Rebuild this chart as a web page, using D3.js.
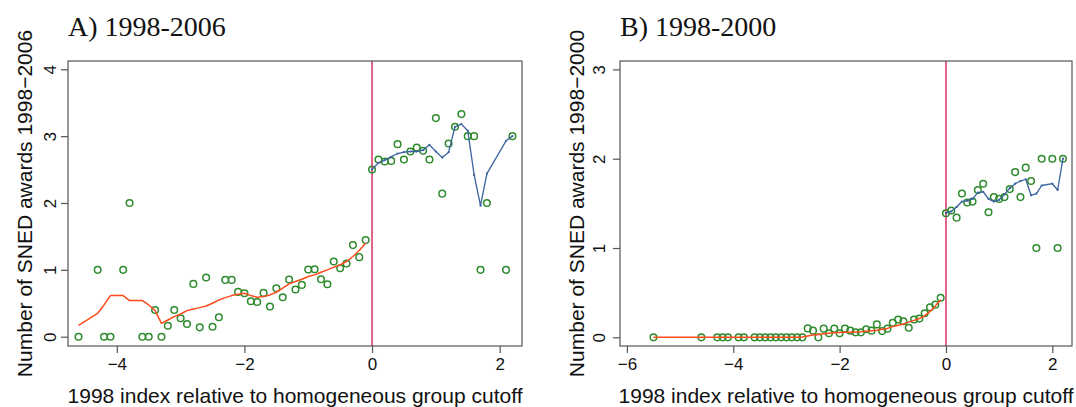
<!DOCTYPE html>
<html>
<head>
<meta charset="utf-8">
<script src="https://cdn.jsdelivr.net/npm/d3@7"></script>
<style>
  html, body { margin: 0; padding: 0; background: #fff; }
  svg { display: block; }
</style>
</head>
<body>
<div id="chart"></div>
<script>
// ---- Panel A: 1998-2006 ----
const aXTicks = [-4, -2, 0, 2];
const aYTicks = [0, 1, 2, 3, 4];

const aLeftX = [-4.6, -4.3, -4.2, -4.1, -3.9, -3.8, -3.6, -3.5, -3.4, -3.3, -3.2, -3.1, -3.0, -2.9,
  -2.8, -2.7, -2.6, -2.5, -2.4, -2.3, -2.2, -2.1, -2.0, -1.9, -1.8, -1.7, -1.6, -1.5, -1.4, -1.3,
  -1.2, -1.1, -1.0, -0.9, -0.8, -0.7, -0.6, -0.5, -0.4, -0.3, -0.2, -0.1];
const aLeftY = [0, 1, 0, 0, 1, 2, 0, 0, 0.40, 0, 0.165, 0.40, 0.275, 0.19,
  0.79, 0.14, 0.885, 0.15, 0.29, 0.85, 0.85, 0.67, 0.65, 0.53, 0.52, 0.655, 0.45, 0.725, 0.59, 0.855,
  0.705, 0.775, 1.005, 1.01, 0.86, 0.785, 1.125, 1.025, 1.095, 1.37, 1.19, 1.445];
const aLeftFit = [0.17, 0.35, 0.475, 0.615, 0.615, 0.54, 0.54, 0.475, 0.39, 0.20, 0.25, 0.30, 0.34, 0.39,
  0.415, 0.435, 0.46, 0.50, 0.55, 0.585, 0.615, 0.635, 0.65, 0.615, 0.59, 0.60, 0.625, 0.665, 0.725, 0.79,
  0.825, 0.86, 0.90, 0.925, 0.965, 1.00, 1.04, 1.075, 1.125, 1.20, 1.29, 1.40];

const aRightX = [0, 0.1, 0.2, 0.3, 0.4, 0.5, 0.6, 0.7, 0.8, 0.9, 1.0, 1.1, 1.2, 1.3, 1.4, 1.5, 1.6, 1.7, 1.8, 2.1, 2.2];
const aRightY = [2.50, 2.65, 2.62, 2.63, 2.88, 2.65, 2.77, 2.83, 2.78, 2.65, 3.27, 2.14, 2.89, 3.14, 3.33, 3.00, 3.00, 1.00, 2.00, 1.00, 3.00];
const aRightFit = [2.50, 2.60, 2.64, 2.69, 2.74, 2.76, 2.77, 2.77, 2.79, 2.87, 2.77, 2.68, 2.76, 3.14, 3.18, 3.08, 2.42, 1.96, 2.44, 2.93, 3.00];

// ---- Panel B: 1998-2000 ----
const bXTicks = [-6, -4, -2, 0, 2];
const bYTicks = [0, 1, 2, 3];

const bLeftX = [-5.5, -4.6, -4.3, -4.2, -4.1, -3.9, -3.8, -3.6, -3.5, -3.4, -3.3, -3.2, -3.1, -3.0, -2.9, -2.8, -2.7,
  -2.6, -2.5, -2.4, -2.3, -2.2, -2.1, -2.0, -1.9, -1.8, -1.7, -1.6, -1.5, -1.4, -1.3,
  -1.2, -1.1, -1.0, -0.9, -0.8, -0.7, -0.6, -0.5, -0.4, -0.3, -0.2, -0.1];
const bLeftY = [0, 0, 0, 0, 0, 0, 0, 0, 0, 0, 0, 0, 0, 0, 0, 0, 0,
  0.10, 0.075, 0, 0.097, 0.045, 0.097, 0.045, 0.097, 0.075, 0.056, 0.056, 0.09, 0.075, 0.145,
  0.07, 0.097, 0.164, 0.20, 0.18, 0.108, 0.20, 0.21, 0.27, 0.336, 0.366, 0.444];
const bLeftFit = [0, 0, 0, 0, 0, 0, 0, 0, 0, 0, 0, 0, 0, 0, 0, 0, 0.005,
  0.015, 0.025, 0.033, 0.04, 0.045, 0.05, 0.053, 0.056, 0.058, 0.06, 0.063, 0.068, 0.074, 0.08,
  0.09, 0.10, 0.12, 0.135, 0.15, 0.17, 0.19, 0.21, 0.24, 0.29, 0.35, 0.42];

const bRightX = [0, 0.1, 0.2, 0.3, 0.4, 0.5, 0.6, 0.7, 0.8, 0.9, 1.0, 1.1, 1.2, 1.3, 1.4, 1.5, 1.6, 1.7, 1.8, 2.0, 2.1, 2.2];
const bRightY = [1.39, 1.42, 1.34, 1.61, 1.51, 1.52, 1.65, 1.72, 1.40, 1.57, 1.55, 1.57, 1.66, 1.85, 1.57, 1.90, 1.75, 1.00, 2.00, 2.00, 1.00, 2.00];
const bRightFit = [1.39, 1.41, 1.46, 1.52, 1.53, 1.55, 1.62, 1.63, 1.55, 1.52, 1.54, 1.60, 1.67, 1.72, 1.75, 1.77, 1.59, 1.61, 1.70, 1.72, 1.65, 2.00];

const xTitle = "1998 index relative to homogeneous group cutoff";

const panels = [
  {
    title: "A) 1998-2006",
    yTitle: "Number of SNED awards 1998\u22122006",
    box: { left: 68, right: 522, top: 61, bottom: 346 },
    xDomain: [-4.765, 2.35], yDomain: [-0.139, 4.124],
    xTicks: aXTicks, yTicks: aYTicks,
    below: { x: aLeftX, y: aLeftY, fit: aLeftFit },
    above: { x: aRightX, y: aRightY, fit: aRightFit },
    tickGap: 12
  },
  {
    title: "B) 1998-2000",
    yTitle: "Number of SNED awards 1998\u22122000",
    box: { left: 620, right: 1072, top: 61, bottom: 346 },
    xDomain: [-6.13, 2.37], yDomain: [-0.097, 3.094],
    xTicks: bXTicks, yTicks: bYTicks,
    below: { x: bLeftX, y: bLeftY, fit: bLeftFit },
    above: { x: bRightX, y: bRightY, fit: bRightFit },
    tickGap: 15
  }
];

const W = 1076, H = 407;
const SANS = "'Liberation Sans', Arial, Helvetica, sans-serif";
const SERIF = "'Liberation Serif', 'Times New Roman', Times, serif";
const AXIS = "#555";
const POINT = "#2e8b2e";
const BELOW_LINE = "#ff4a1c";
const ABOVE_LINE = "#3a62a0";
const CUTOFF = "#dc3f6c";

const svg = d3.select("#chart").append("svg")
  .attr("width", W).attr("height", H)
  .attr("viewBox", `0 0 ${W} ${H}`);

panels.forEach(p => {
  const b = p.box;
  const x = d3.scaleLinear().domain(p.xDomain).range([b.left, b.right]);
  const y = d3.scaleLinear().domain(p.yDomain).range([b.bottom, b.top]);
  const g = svg.append("g");

  // title
  g.append("text")
    .attr("x", b.left).attr("y", 36)
    .attr("font-family", SERIF).attr("font-size", 28)
    .attr("fill", "#111")
    .text(p.title);

  // cutoff line
  g.append("line")
    .attr("x1", x(0)).attr("x2", x(0))
    .attr("y1", b.top).attr("y2", b.bottom)
    .attr("stroke", CUTOFF).attr("stroke-width", 1.6);

  // points on each side of the cutoff
  [p.below, p.above].forEach(side => {
    g.append("g").selectAll("circle")
      .data(side.x.map((v, i) => [v, side.y[i]]))
      .join("circle")
      .attr("cx", d => x(d[0])).attr("cy", d => y(d[1]))
      .attr("r", 3.3)
      .attr("fill", "none")
      .attr("stroke", POINT).attr("stroke-width", 1.5);
  });

  // fitted curves
  const line = d3.line().x(d => x(d[0])).y(d => y(d[1]));
  const belowFit = p.below.x.map((v, i) => [v, p.below.fit[i]]);
  const aboveFit = p.above.x.map((v, i) => [v, p.above.fit[i]]);

  g.append("path").datum(belowFit)
    .attr("d", line).attr("fill", "none")
    .attr("stroke", BELOW_LINE).attr("stroke-width", 1.5)
    .attr("stroke-linejoin", "round");

  g.append("path").datum(aboveFit)
    .attr("d", line).attr("fill", "none")
    .attr("stroke", ABOVE_LINE).attr("stroke-width", 1.3)
    .attr("stroke-linejoin", "round");

  g.append("g").selectAll("circle")
    .data(aboveFit)
    .join("circle")
    .attr("cx", d => x(d[0])).attr("cy", d => y(d[1]))
    .attr("r", 1.1).attr("fill", ABOVE_LINE);

  // frame
  g.append("rect")
    .attr("x", b.left).attr("y", b.top)
    .attr("width", b.right - b.left).attr("height", b.bottom - b.top)
    .attr("fill", "none").attr("stroke", AXIS).attr("stroke-width", 1.2);

  // x axis
  const xa = g.append("g")
    .attr("transform", `translate(0,${b.bottom})`)
    .call(d3.axisBottom(x).tickValues(p.xTicks).tickSize(7).tickPadding(5)
      .tickFormat(d3.format("d")));
  xa.select(".domain").remove();
  xa.selectAll(".tick line").attr("stroke", AXIS).attr("stroke-width", 1.2);
  xa.selectAll(".tick text")
    .attr("font-family", SANS).attr("font-size", 17).attr("fill", "#111");

  // y axis with rotated labels
  const ya = g.append("g")
    .attr("transform", `translate(${b.left},0)`)
    .call(d3.axisLeft(y).tickValues(p.yTicks).tickSize(7).tickFormat(d3.format("d")));
  ya.select(".domain").remove();
  ya.selectAll(".tick line").attr("stroke", AXIS).attr("stroke-width", 1.2);
  ya.selectAll(".tick text")
    .attr("x", 0).attr("y", -p.tickGap).attr("dy", 0)
    .attr("transform", "rotate(-90)")
    .attr("text-anchor", "middle")
    .attr("font-family", SANS).attr("font-size", 17).attr("fill", "#111");

  // axis titles
  g.append("text")
    .attr("x", (b.left + b.right) / 2).attr("y", 403)
    .attr("text-anchor", "middle")
    .attr("font-family", SANS).attr("font-size", 21).attr("fill", "#111")
    .text(xTitle);

  g.append("text")
    .attr("transform", `translate(${b.left - 36},${(b.top + b.bottom) / 2}) rotate(-90)`)
    .attr("text-anchor", "middle")
    .attr("font-family", SANS).attr("font-size", 21).attr("fill", "#111")
    .text(p.yTitle);
});
</script>
</body>
</html>
